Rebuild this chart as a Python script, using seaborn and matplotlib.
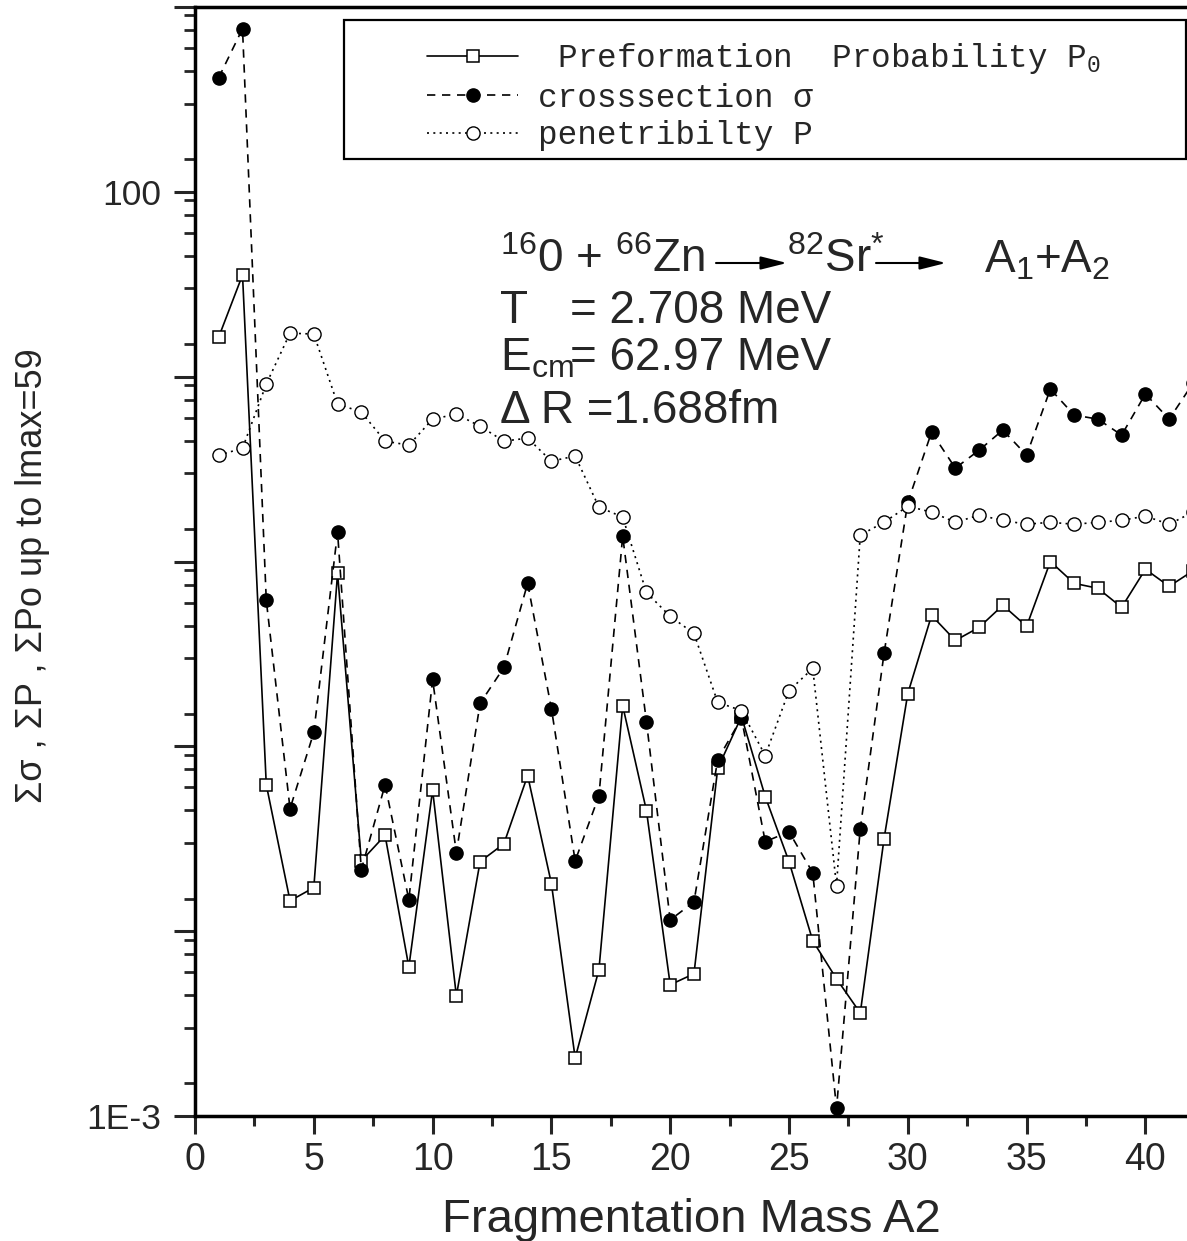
import numpy as np
import pandas as pd
import matplotlib
matplotlib.use("Agg")
import matplotlib.pyplot as plt
import seaborn as sns
from matplotlib.ticker import MultipleLocator, LogLocator, FuncFormatter, NullFormatter
from matplotlib.patches import Rectangle

# ---------------- data ----------------
mass_a2 = list(range(1, 43))
preformation_p0 = [16.4, 35.5, 0.062, 0.0146, 0.0172, 0.863, 0.024, 0.033, 0.0064, 0.058,
                   0.00447, 0.0238, 0.0297, 0.0695, 0.0181, 0.00206, 0.00618, 0.166, 0.0449, 0.00513,
                   0.00588, 0.0759, 0.145, 0.0535, 0.0238, 0.00887, 0.00552, 0.00361, 0.0316, 0.193,
                   0.511, 0.374, 0.44, 0.58, 0.446, 1.0, 0.762, 0.716, 0.565, 0.908, 0.734, 0.89]
cross_section = [415, 763, 0.616, 0.046, 0.119, 1.44, 0.0215, 0.062, 0.0148, 0.230,
                 0.0266, 0.171, 0.267, 0.762, 0.160, 0.024, 0.054, 1.37, 0.136, 0.0115,
                 0.0144, 0.0848, 0.142, 0.0305, 0.0345, 0.0207, 0.0011, 0.0359, 0.318, 2.09,
                 5.01, 3.2, 4.0, 5.14, 3.76, 8.57, 6.2, 5.89, 4.83, 8.06, 5.89, 9.2]
penetrability = [3.76, 4.1, 9.12, 17.2, 17.0, 7.12, 6.43, 4.48, 4.26, 5.89,
                 6.27, 5.39, 4.48, 4.65, 3.49, 3.72, 1.97, 1.74, 0.68, 0.505,
                 0.408, 0.173, 0.156, 0.0891, 0.2, 0.264, 0.0176, 1.39, 1.63, 1.99,
                 1.85, 1.63, 1.78, 1.67, 1.59, 1.63, 1.59, 1.63, 1.67, 1.76, 1.59, 1.85]
legend_labels = [" Preformation  Probability P$_0$", "crosssection σ", "penetribilty P"]
x_label = "Fragmentation Mass A2"
y_label = "Σσ , ΣP , ΣPo up to lmax=59"

# ---------------- style ----------------
sns.set_style("ticks")
plt.rcParams['font.family'] = ['Liberation Sans', 'DejaVu Sans']
plt.rcParams['mathtext.default'] = 'regular'

W, H = 1187, 1241
def fx(px):
    return px / W
def fy(py):
    return 1 - py / H

fig = plt.figure(figsize=(W / 100, H / 100), dpi=100)
ax = fig.add_axes([fx(195), fy(1116), (W - 195) / W, (1116 - 7) / H])

df = pd.DataFrame({"A2": mass_a2, "P0": preformation_p0,
                   "sigma": cross_section, "P": penetrability})

sns.lineplot(data=df, x="A2", y="P0", ax=ax, color="black", linestyle="-", lw=1.2,
             marker="s", markersize=8.5, markerfacecolor="white", markeredgecolor="black",
             markeredgewidth=1.1, label=legend_labels[0])
sns.lineplot(data=df, x="A2", y="sigma", ax=ax, color="black", linestyle=(0, (5, 4)), lw=1.2,
             marker="o", markersize=9.5, markerfacecolor="black", markeredgecolor="black",
             markeredgewidth=1.0, label=legend_labels[1])
sns.lineplot(data=df, x="A2", y="P", ax=ax, color="black", linestyle=(0, (1.2, 2.6)), lw=1.2,
             marker="o", markersize=9.5, markerfacecolor="white", markeredgecolor="black",
             markeredgewidth=1.0, label=legend_labels[2])

ax.set_yscale("log")
ax.set_ylim(1e-3, 1e3)
ax.set_xlim(0, (W - 195) / 23.76)

ax.xaxis.set_major_locator(MultipleLocator(5))
ax.xaxis.set_minor_locator(MultipleLocator(2.5))
ax.yaxis.set_major_locator(LogLocator(base=10, numticks=20))
ax.yaxis.set_minor_locator(LogLocator(base=10, subs=(1.5, 3, 4.5, 6, 7.5, 9), numticks=20))

def ylab(v, pos):
    if abs(np.log10(v) - 2) < 1e-6:
        return "100"
    if abs(np.log10(v) + 3) < 1e-6:
        return "1E-3"
    return ""
ax.yaxis.set_major_formatter(FuncFormatter(ylab))
ax.yaxis.set_minor_formatter(NullFormatter())

ax.tick_params(axis="x", which="major", direction="out", length=13, width=2.2,
               labelsize=27, pad=6)
ax.tick_params(axis="x", which="minor", direction="out", length=7, width=2.2)
ax.tick_params(axis="y", which="major", direction="out", length=15, width=2.2,
               labelsize=25.5, pad=9)
ax.tick_params(axis="y", which="minor", direction="out", length=8, width=2.0)

for s in ["left", "bottom", "top"]:
    ax.spines[s].set_linewidth(2.5)
    ax.spines[s].set_color("black")
ax.spines["right"].set_visible(False)

ax.set_xlabel(x_label, fontsize=34, labelpad=14)
ax.set_ylabel(y_label, fontsize=26)
ax.yaxis.set_label_coords(-0.146, 0.487)

# legend
handles, labels = ax.get_legend_handles_labels()
leg = ax.legend(handles, labels, loc="upper left", frameon=False,
                bbox_to_anchor=(fx(427), fy(41)), bbox_transform=fig.transFigure,
                borderpad=0, borderaxespad=0, handlelength=2.8, handletextpad=0.6,
                labelspacing=0.2, prop={"family": "Liberation Mono", "size": 23.5})
fig.add_artist(Rectangle((fx(344), fy(159)), (1186 - 344) / W, (159 - 20) / H,
                         transform=fig.transFigure, fill=False, lw=1.6,
                         edgecolor="black", zorder=6))

# annotation
fs = 33
fig.text(fx(500), fy(272), "$^{16}$0 + $^{66}$Zn", fontsize=fs, va="baseline", ha="left")
fig.text(fx(787), fy(272), "$^{82}$Sr$^{*}$", fontsize=fs, va="baseline", ha="left")
fig.text(fx(984), fy(272), "A$_1$+A$_2$", fontsize=fs, va="baseline", ha="left")
for x0, x1 in [(716, 787), (876, 946)]:
    ax.annotate("", xy=(fx(x1), fy(263)), xytext=(fx(x0), fy(263)),
                xycoords="figure fraction", textcoords="figure fraction",
                arrowprops=dict(arrowstyle="-|>,head_length=0.8,head_width=0.2",
                                lw=1.5, color="black", mutation_scale=20,
                                shrinkA=0, shrinkB=0))
fig.text(fx(500), fy(323), "T", fontsize=fs, va="baseline", ha="left")
fig.text(fx(570), fy(323), "= 2.708 MeV", fontsize=fs, va="baseline", ha="left")
fig.text(fx(500), fy(370), "E$_{cm}$", fontsize=fs, va="baseline", ha="left")
fig.text(fx(570), fy(370), "= 62.97 MeV", fontsize=fs, va="baseline", ha="left")
fig.text(fx(500), fy(423), "Δ R =1.688fm", fontsize=fs, va="baseline", ha="left")

fig.savefig("out.png", dpi=100)
